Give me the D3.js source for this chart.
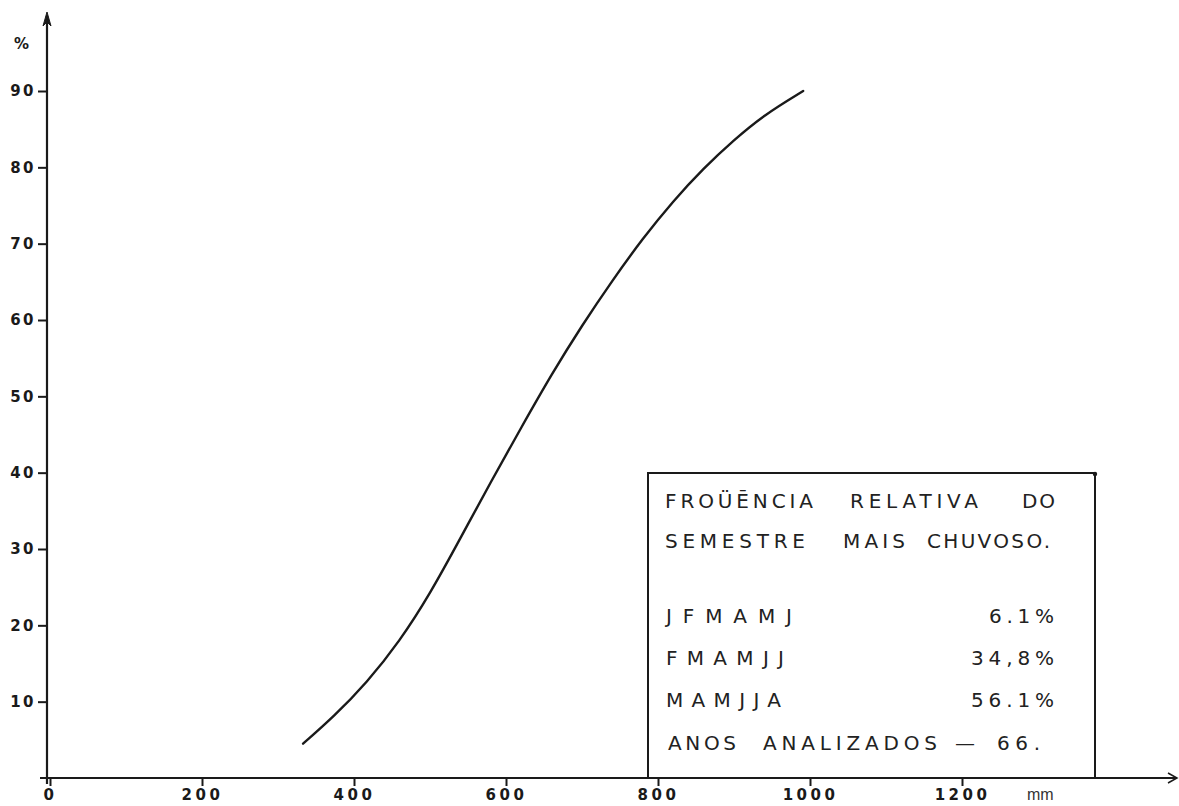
<!DOCTYPE html>
<html>
<head>
<meta charset="utf-8">
<script src="https://cdn.jsdelivr.net/npm/d3@7"></script>
<style>
  html, body { margin: 0; padding: 0; background: #fff; }
  svg { display: block; }
</style>
</head>
<body>
<svg id="chart" width="1179" height="806"></svg>
<script>
// ---- data ----
const rainfallMM = [333, 373, 417, 460, 500, 540, 580, 620, 660, 700, 740, 780, 820, 860, 900, 940, 991];
const frequencyPct = [4.5, 8.0, 12.5, 17.9, 24.1, 31.4, 38.8, 45.9, 52.9, 59.3, 65.2, 70.7, 75.6, 79.9, 83.6, 86.9, 90.0];
const xTicks = [0, 200, 400, 600, 800, 1000, 1200];
const yTicks = [10, 20, 30, 40, 50, 60, 70, 80, 90];
const xUnit = "mm";
const yUnit = "%";
const titleLine1 = ["FROÜĒNCIA", "RELATIVA", "DO"];
const titleLine2 = ["SEMESTRE", "MAIS", "CHUVOSO."];
const semesters = ["JFMAMJ", "FMAMJJ", "MAMJJA"];
const semesterPct = ["6.1%", "34,8%", "56.1%"];
const yearsLabel = ["ANOS", "ANALIZADOS", "—", "66."];

// ---- drawing ----
const svg = d3.select("#chart");
const ink = "#1a1a1a";
const x = d3.scaleLinear().domain([0, 1200]).range([50, 962]);
const y = d3.scaleLinear().domain([0, 90]).range([778, 91]);
const font = "'DejaVu Sans', sans-serif";

// y axis
const yAxis = svg.append("g")
  .attr("transform", `translate(${x(0) - 3},0)`)
  .call(d3.axisLeft(y).tickValues(yTicks).tickSize(9).tickPadding(2).tickFormat(d3.format("d")));
yAxis.select(".domain").remove();
yAxis.selectAll(".tick line").attr("stroke", ink).attr("stroke-width", 2);
yAxis.selectAll(".tick text")
  .attr("fill", ink).attr("font-family", font).attr("font-size", 15)
  .attr("letter-spacing", 2.5).attr("font-weight", "bold");

// x axis
const xAxis = svg.append("g")
  .attr("transform", `translate(0,${y(0)})`)
  .call(d3.axisBottom(x).tickValues(xTicks).tickSize(8).tickPadding(3).tickFormat(d3.format("d")));
xAxis.select(".domain").remove();
xAxis.selectAll(".tick line").attr("stroke", ink).attr("stroke-width", 2);
xAxis.selectAll(".tick text")
  .attr("fill", ink).attr("font-family", font).attr("font-size", 15)
  .attr("letter-spacing", 3.5).attr("font-weight", "bold");

// axis lines with arrows
svg.append("line").attr("x1", x(0) - 3).attr("x2", x(0) - 3).attr("y1", y(0) + 6).attr("y2", 16)
  .attr("stroke", ink).attr("stroke-width", 2.2);
svg.append("path")
  .attr("d", `M${x(0) - 3},12 L${x(0) - 7},26 L${x(0) - 3},22 L${x(0) + 1},26 Z`)
  .attr("fill", ink).attr("stroke", ink).attr("stroke-width", 1);
svg.append("line").attr("x1", 40).attr("x2", 1177).attr("y1", y(0)).attr("y2", y(0))
  .attr("stroke", ink).attr("stroke-width", 1.8);
svg.append("path")
  .attr("d", `M1168,${y(0) - 5} L1177,${y(0)} L1168,${y(0) + 5}`)
  .attr("fill", "none").attr("stroke", ink).attr("stroke-width", 1.5);

// unit labels
svg.append("text").attr("x", 14).attr("y", 49).text(yUnit)
  .attr("fill", ink).attr("font-family", font).attr("font-size", 15).attr("font-weight", "bold");
svg.append("text").attr("x", 1027).attr("y", 800).text(xUnit)
  .attr("fill", "#333").attr("font-family", "'Liberation Sans', Arial, sans-serif").attr("font-size", 16);

// curve
const pts = rainfallMM.map((v, i) => [v, frequencyPct[i]]);
svg.append("path")
  .datum(pts)
  .attr("d", d3.line().x(d => x(d[0])).y(d => y(d[1])).curve(d3.curveBasis))
  .attr("fill", "none").attr("stroke", ink).attr("stroke-width", 2.4).attr("stroke-linecap", "round");

// legend box
const bx0 = 648, bx1 = 1095, by0 = 473, by1 = y(0);
svg.append("path")
  .attr("d", `M${bx0},${by1} L${bx0},${by0} L${bx1},${by0} L${bx1},${by1}`)
  .attr("fill", "none").attr("stroke", ink).attr("stroke-width", 2);
svg.append("circle").attr("cx", bx1).attr("cy", by0 + 1).attr("r", 2.2).attr("fill", ink);

function word(txt, x0, base, width, anchor) {
  const t = svg.append("text")
    .attr("x", x0).attr("y", base).text(txt)
    .attr("fill", "#222").attr("font-family", font).attr("font-size", 20)
    .attr("textLength", width).attr("lengthAdjust", "spacing");
  if (anchor) t.attr("text-anchor", anchor);
  return t;
}
// title
word(titleLine1[0], 665, 508, 148);
word(titleLine1[1], 850, 508, 128);
word(titleLine1[2], 1022, 508, 33);
word(titleLine2[0], 665, 548, 140);
word(titleLine2[1], 843, 548, 62);
word(titleLine2[2], 927, 548, 123);
// semesters
const rowBase = [623, 665, 707];
const rowW = [126, 118, 115];
const pctW = [65, 83, 83];
semesters.forEach((s, i) => {
  word(s, 666, rowBase[i], rowW[i]);
  word(semesterPct[i], 1054 - pctW[i], rowBase[i], pctW[i]);
});
// years
word(yearsLabel[0], 668, 750, 68);
word(yearsLabel[1], 763, 750, 174);
word(yearsLabel[2], 955, 750, 26);
word(yearsLabel[3], 997, 750, 43);
</script>
</body>
</html>
